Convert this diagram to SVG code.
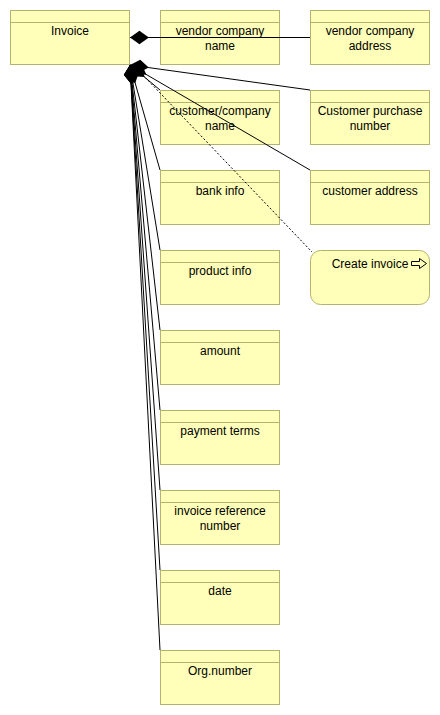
<svg xmlns="http://www.w3.org/2000/svg" width="440" height="715" viewBox="0 0 440 715">
<style>
.box{fill:#ffffb9;stroke:#b3b36e;stroke-width:1}
.hdr{stroke:#b3b36e;stroke-width:1}
.t{font-family:"Liberation Sans",Arial,sans-serif;font-size:12px;fill:#000;text-anchor:middle}
.c{stroke:#000;stroke-width:1;fill:none}
.comp{marker-start:url(#dia)}
.dot{stroke:#000;stroke-width:1;fill:none;stroke-dasharray:2,2}
</style>
<defs>
<marker id="dia" markerUnits="userSpaceOnUse" markerWidth="20" markerHeight="14" refX="0" refY="6" orient="auto" viewBox="0 0 18 12" overflow="visible">
<path d="M0,6 L8.5,0 L17,6 L8.5,12 z" fill="#000"/>
</marker>
</defs>
<g id="invoice"><rect class="box" x="10.5" y="10.5" width="119" height="54"/><line class="hdr" x1="10.5" y1="22.5" x2="129.5" y2="22.5"/><text class="t" x="70" y="35">Invoice</text></g>
<g id="vendor-company-name"><rect class="box" x="160.5" y="10.5" width="119" height="54"/><line class="hdr" x1="160.5" y1="22.5" x2="279.5" y2="22.5"/><text class="t" x="220" y="35">vendor company</text><text class="t" x="220" y="50">name</text></g>
<g id="vendor-company-address"><rect class="box" x="310.5" y="10.5" width="119" height="54"/><line class="hdr" x1="310.5" y1="22.5" x2="429.5" y2="22.5"/><text class="t" x="370" y="35">vendor company</text><text class="t" x="370" y="50">address</text></g>
<g id="customer-company-name"><rect class="box" x="160.5" y="90.5" width="119" height="54"/><line class="hdr" x1="160.5" y1="102.5" x2="279.5" y2="102.5"/><text class="t" x="220" y="115">customer/company</text><text class="t" x="220" y="130">name</text></g>
<g id="customer-purchase-number"><rect class="box" x="310.5" y="90.5" width="119" height="54"/><line class="hdr" x1="310.5" y1="102.5" x2="429.5" y2="102.5"/><text class="t" x="370" y="115">Customer purchase</text><text class="t" x="370" y="130">number</text></g>
<g id="bank-info"><rect class="box" x="160.5" y="170.5" width="119" height="54"/><line class="hdr" x1="160.5" y1="182.5" x2="279.5" y2="182.5"/><text class="t" x="220" y="195">bank info</text></g>
<g id="customer-address"><rect class="box" x="310.5" y="170.5" width="119" height="54"/><line class="hdr" x1="310.5" y1="182.5" x2="429.5" y2="182.5"/><text class="t" x="370" y="195">customer address</text></g>
<g id="product-info"><rect class="box" x="160.5" y="250.5" width="119" height="54"/><line class="hdr" x1="160.5" y1="262.5" x2="279.5" y2="262.5"/><text class="t" x="220" y="275">product info</text></g>
<g id="create-invoice"><rect class="box" x="310.5" y="250.5" width="119" height="54" rx="10" ry="10"/><text class="t" x="370" y="268">Create invoice</text><path d="M411.5,261.5 h8 v-3 l7,5 l-7,5 v-3 h-8 z" fill="none" stroke="#000" stroke-width="1"/></g>
<g id="amount"><rect class="box" x="160.5" y="330.5" width="119" height="54"/><line class="hdr" x1="160.5" y1="342.5" x2="279.5" y2="342.5"/><text class="t" x="220" y="355">amount</text></g>
<g id="payment-terms"><rect class="box" x="160.5" y="410.5" width="119" height="54"/><line class="hdr" x1="160.5" y1="422.5" x2="279.5" y2="422.5"/><text class="t" x="220" y="435">payment terms</text></g>
<g id="invoice-reference-number"><rect class="box" x="160.5" y="490.5" width="119" height="54"/><line class="hdr" x1="160.5" y1="502.5" x2="279.5" y2="502.5"/><text class="t" x="220" y="515">invoice reference</text><text class="t" x="220" y="530">number</text></g>
<g id="date"><rect class="box" x="160.5" y="570.5" width="119" height="54"/><line class="hdr" x1="160.5" y1="582.5" x2="279.5" y2="582.5"/><text class="t" x="220" y="595">date</text></g>
<g id="org-number"><rect class="box" x="160.5" y="650.5" width="119" height="54"/><line class="hdr" x1="160.5" y1="662.5" x2="279.5" y2="662.5"/><text class="t" x="220" y="675">Org.number</text></g>
<g id="connectors">
<path class="c comp" d="M130,37.5 L310,37.5"/>
<path class="c comp" d="M130,65 L310,90"/>
<path class="c comp" d="M130,65 L310,170"/>
<path class="c comp" d="M130,65 L160,90"/>
<path class="c comp" d="M130,65 L160,170"/>
<path class="c comp" d="M130,65 L160,250"/>
<path class="c comp" d="M130,65 L160,330"/>
<path class="c comp" d="M130,65 L160,410"/>
<path class="c comp" d="M130,65 L160,490"/>
<path class="c comp" d="M130,65 L160,570"/>
<path class="c comp" d="M130,65 L160,650"/>
<path class="dot" d="M140,72 L312,252"/>
</g>
</svg>
